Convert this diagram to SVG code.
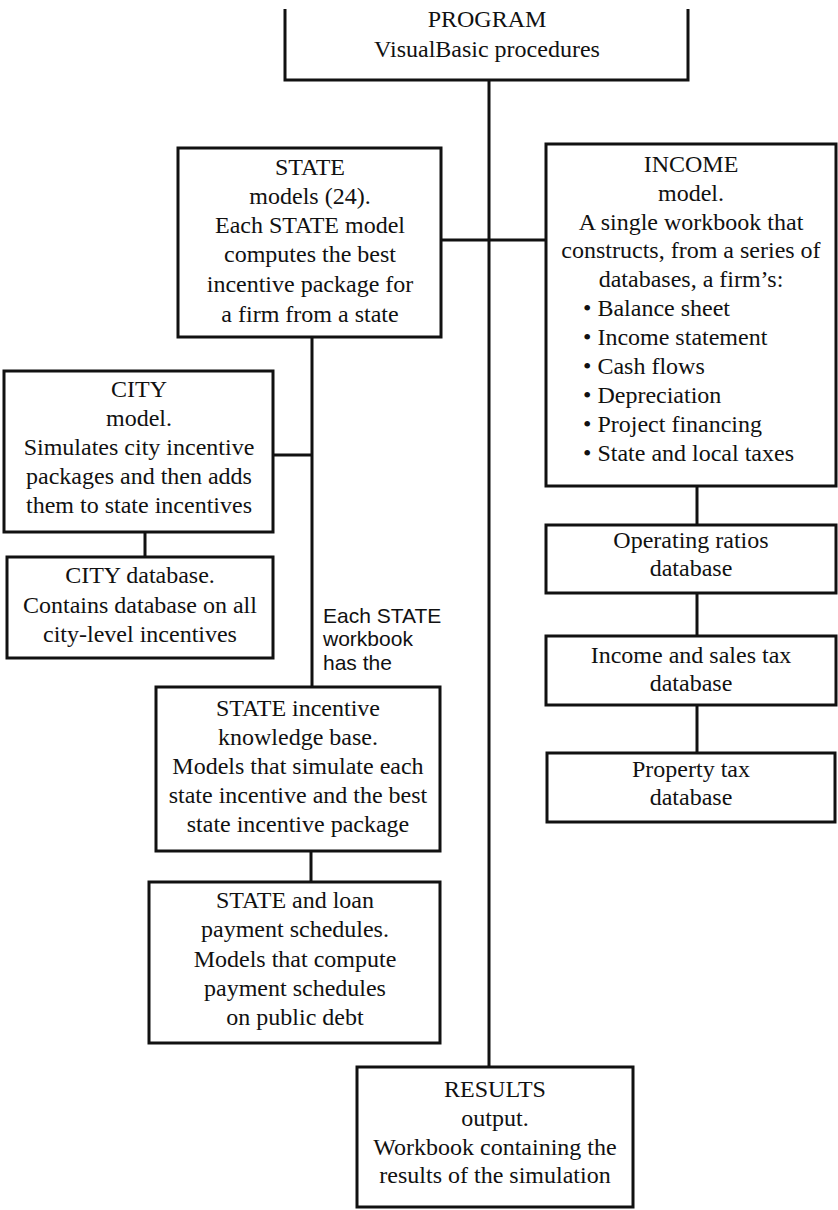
<svg xmlns="http://www.w3.org/2000/svg" width="838" height="1210" viewBox="0 0 838 1210">
<style>
.box{fill:none;stroke:#111;stroke-width:3}
.ln{fill:none;stroke:#111;stroke-width:3}
text{font-family:"Liberation Serif","Times New Roman",serif;font-size:24px;fill:#111}
.c{text-anchor:middle}
.sans{font-family:"Liberation Sans",Arial,sans-serif;font-size:21px}
</style>
<rect width="838" height="1210" fill="#fff"/>
<g id="connectors">
<path class="ln" d="M489,80 V1067"/>
<path class="ln" d="M441,240 H546"/>
<path class="ln" d="M312,337 V687"/>
<path class="ln" d="M273,455 H312"/>
<path class="ln" d="M145,532 V557"/>
<path class="ln" d="M311,851 V882"/>
<path class="ln" d="M697,486 V525"/>
<path class="ln" d="M697,593 V636"/>
<path class="ln" d="M697,705 V753"/>
</g>
<g id="program">
<path class="box" d="M285,9 V80 H688 V9"/>
<text class="c" x="487" y="27">PROGRAM</text>
<text class="c" x="487" y="57">VisualBasic procedures</text>
</g>
<g id="state">
<rect class="box" x="178" y="148" width="263" height="189"/>
<text class="c" x="310"><tspan x="310" y="175">STATE</tspan><tspan x="310" y="204">models (24).</tspan><tspan x="310" y="233">Each STATE model</tspan><tspan x="310" y="262">computes the best</tspan><tspan x="310" y="292">incentive package for</tspan><tspan x="310" y="322">a firm from a state</tspan></text>
</g>
<g id="income">
<rect class="box" x="546" y="144" width="290" height="342"/>
<text class="c" x="691"><tspan x="691" y="172">INCOME</tspan><tspan x="691" y="201">model.</tspan><tspan x="691" y="230">A single workbook that</tspan><tspan x="691" y="258">constructs, from a series of</tspan><tspan x="691" y="287">databases, a firm’s:</tspan></text>
<text x="583"><tspan x="583" y="316">• Balance sheet</tspan><tspan x="583" y="345">• Income statement</tspan><tspan x="583" y="374">• Cash flows</tspan><tspan x="583" y="403">• Depreciation</tspan><tspan x="583" y="432">• Project financing</tspan><tspan x="583" y="461">• State and local taxes</tspan></text>
</g>
<g id="city">
<rect class="box" x="4" y="371" width="269" height="161"/>
<text class="c" x="139"><tspan x="139" y="397">CITY</tspan><tspan x="139" y="426">model.</tspan><tspan x="139" y="455">Simulates city incentive</tspan><tspan x="139" y="484">packages and then adds</tspan><tspan x="139" y="513">them to state incentives</tspan></text>
</g>
<g id="citydb">
<rect class="box" x="7" y="557" width="266" height="101"/>
<text class="c" x="140"><tspan x="140" y="583">CITY database.</tspan><tspan x="140" y="613">Contains database on all</tspan><tspan x="140" y="642">city-level incentives</tspan></text>
</g>
<g id="note">
<text class="sans" x="323"><tspan x="323" y="623">Each STATE</tspan><tspan x="323" y="646">workbook</tspan><tspan x="323" y="670">has the</tspan></text>
</g>
<g id="kb">
<rect class="box" x="156" y="687" width="284" height="164"/>
<text class="c" x="298"><tspan x="298" y="716">STATE incentive</tspan><tspan x="298" y="745">knowledge base.</tspan><tspan x="298" y="774">Models that simulate each</tspan><tspan x="298" y="803">state incentive and the best</tspan><tspan x="298" y="832">state incentive package</tspan></text>
</g>
<g id="loan">
<rect class="box" x="149" y="882" width="291" height="161"/>
<text class="c" x="295"><tspan x="295" y="908">STATE and loan</tspan><tspan x="295" y="937">payment schedules.</tspan><tspan x="295" y="967">Models that compute</tspan><tspan x="295" y="996">payment schedules</tspan><tspan x="295" y="1025">on public debt</tspan></text>
</g>
<g id="opratios">
<rect class="box" x="546" y="525" width="290" height="68"/>
<text class="c" x="691"><tspan x="691" y="548">Operating ratios</tspan><tspan x="691" y="576">database</tspan></text>
</g>
<g id="salestax">
<rect class="box" x="546" y="636" width="290" height="69"/>
<text class="c" x="691"><tspan x="691" y="663">Income and sales tax</tspan><tspan x="691" y="691">database</tspan></text>
</g>
<g id="property">
<rect class="box" x="547" y="753" width="288" height="69"/>
<text class="c" x="691"><tspan x="691" y="777">Property tax</tspan><tspan x="691" y="805">database</tspan></text>
</g>
<g id="results">
<rect class="box" x="357" y="1067" width="276" height="140"/>
<text class="c" x="495"><tspan x="495" y="1097">RESULTS</tspan><tspan x="495" y="1126">output.</tspan><tspan x="495" y="1155">Workbook containing the</tspan><tspan x="495" y="1183">results of the simulation</tspan></text>
</g>
</svg>
